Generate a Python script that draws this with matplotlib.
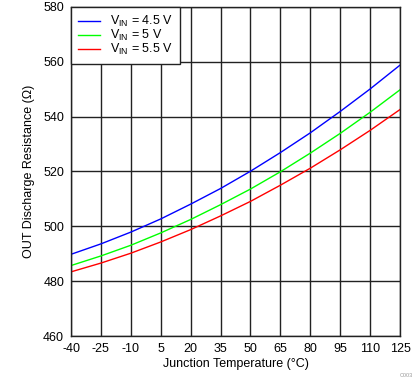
import matplotlib
matplotlib.use("Agg")
from matplotlib import pyplot as plt

plt.rcParams['font.family'] = ['Liberation Sans', 'DejaVu Sans']
plt.rcParams['axes.unicode_minus'] = False

# 数据
temps = [-40, -25, -10, 5, 20, 35, 50, 65, 80, 95, 110, 125]
r_45 = [489.8, 493.6, 497.9, 502.7, 508.1, 513.8, 520.1, 526.9, 534.1, 541.9, 550.1, 558.8]
r_50 = [485.7, 489.2, 493.1, 497.6, 502.5, 507.9, 513.6, 519.9, 526.7, 533.9, 541.6, 549.8]
r_55 = [483.4, 486.6, 490.2, 494.3, 498.8, 503.8, 509.1, 515.0, 521.2, 527.9, 535.0, 542.6]
labels = [r'V$_{\mathregular{IN}}$ = 4.5 V', r'V$_{\mathregular{IN}}$ = 5 V', r'V$_{\mathregular{IN}}$ = 5.5 V']
colors = ['#0000ff', '#00ff00', '#ff0000']

xticks = list(range(-40, 126, 15))
yticks = list(range(460, 581, 20))

fig = plt.figure(figsize=(4.19, 3.82), dpi=100)
ax = fig.add_axes([0.1695, 0.1204, 0.7852, 0.8613])

for ys, lab, c in zip([r_45, r_50, r_55], labels, colors):
    ax.plot(temps, ys, color=c, linewidth=1.0, label=lab)

ax.set_xlim(-40, 125)
ax.set_ylim(460, 580)
ax.set_xticks(xticks)
ax.set_yticks(yticks)
ax.grid(True, color='#222222', linewidth=1.0)
ax.set_axisbelow(True)
for s in ax.spines.values():
    s.set_color('#222222')
    s.set_linewidth(1.0)
ax.tick_params(length=0, pad=5, labelsize=9, colors='black')

ax.set_xlabel('Junction Temperature (°C)', fontsize=9, labelpad=2)
ax.set_ylabel('OUT Discharge Resistance (Ω)', fontsize=9, labelpad=6)

leg = ax.legend(loc='upper left', bbox_to_anchor=(0, 1), borderaxespad=0,
                fontsize=9, fancybox=False, framealpha=1, edgecolor='#222222',
                handlelength=1.8, handletextpad=0.75, labelspacing=-0.08,
                borderpad=0.55, handleheight=0.5)
leg.get_frame().set_linewidth(1.0)

fig.text(0.985, 0.01, 'C003', fontsize=4, color='#999999', ha='right', va='bottom')

fig.savefig('out.png', dpi=100)
